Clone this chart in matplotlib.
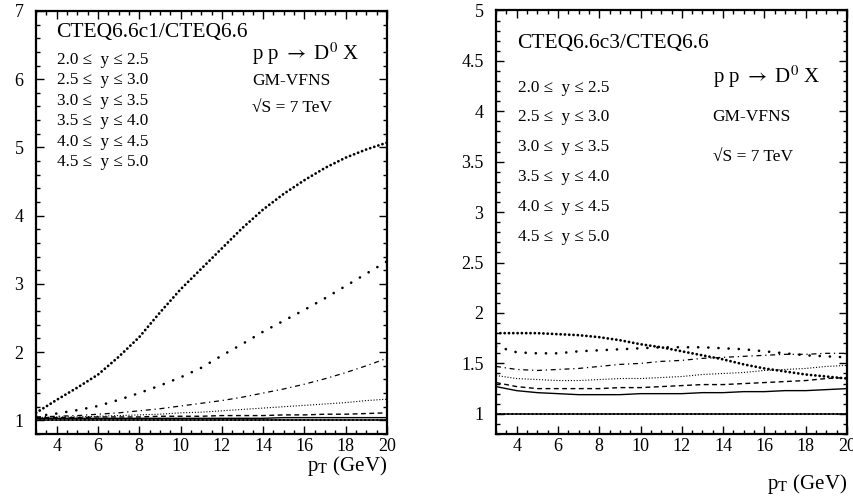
import matplotlib
matplotlib.use("Agg")
import matplotlib.pyplot as plt
from matplotlib.ticker import MultipleLocator, FuncFormatter

plt.rcParams['font.family'] = ['Liberation Serif', 'DejaVu Serif']
plt.rcParams['mathtext.fontset'] = 'stix'

pt = [3, 4, 5, 6, 7, 8, 9, 10, 11, 12, 13, 14, 15, 16, 17, 18, 19, 20]

rap_labels = ["2.0 \u2264  y \u2264 2.5", "2.5 \u2264  y \u2264 3.0", "3.0 \u2264  y \u2264 3.5",
              "3.5 \u2264  y \u2264 4.0", "4.0 \u2264  y \u2264 4.5", "4.5 \u2264  y \u2264 5.0"]

# CTEQ6.6c1 / CTEQ6.6
c1_y20 = [1.03, 1.03, 1.03, 1.03, 1.03, 1.03, 1.03, 1.03, 1.03, 1.03, 1.03, 1.03, 1.04, 1.04, 1.04, 1.04, 1.04, 1.04]
c1_y25 = [1.04, 1.04, 1.04, 1.05, 1.05, 1.05, 1.06, 1.06, 1.06, 1.07, 1.07, 1.07, 1.08, 1.08, 1.09, 1.09, 1.10, 1.11]
c1_y30 = [1.04, 1.05, 1.05, 1.06, 1.07, 1.08, 1.09, 1.11, 1.12, 1.14, 1.16, 1.18, 1.20, 1.22, 1.24, 1.26, 1.29, 1.31]
c1_y35 = [1.05, 1.06, 1.07, 1.09, 1.11, 1.14, 1.17, 1.21, 1.25, 1.29, 1.34, 1.40, 1.46, 1.53, 1.61, 1.70, 1.80, 1.91]
c1_y40 = [1.06, 1.10, 1.15, 1.21, 1.30, 1.40, 1.51, 1.63, 1.77, 1.95, 2.12, 2.30, 2.46, 2.62, 2.79, 2.97, 3.15, 3.33]
c1_y45 = [1.11, 1.30, 1.48, 1.67, 1.93, 2.22, 2.58, 2.92, 3.22, 3.52, 3.82, 4.09, 4.32, 4.52, 4.70, 4.85, 4.97, 5.07]

# CTEQ6.6c3 / CTEQ6.6
c3_y20 = [1.27, 1.23, 1.21, 1.20, 1.19, 1.19, 1.19, 1.20, 1.20, 1.20, 1.21, 1.21, 1.22, 1.22, 1.23, 1.23, 1.24, 1.25]
c3_y25 = [1.31, 1.27, 1.25, 1.25, 1.25, 1.25, 1.26, 1.26, 1.27, 1.28, 1.29, 1.29, 1.30, 1.31, 1.32, 1.33, 1.35, 1.36]
c3_y30 = [1.38, 1.35, 1.34, 1.33, 1.33, 1.34, 1.35, 1.35, 1.36, 1.37, 1.39, 1.40, 1.41, 1.43, 1.44, 1.45, 1.47, 1.48]
c3_y35 = [1.47, 1.44, 1.43, 1.44, 1.45, 1.47, 1.49, 1.50, 1.52, 1.53, 1.55, 1.56, 1.57, 1.58, 1.59, 1.59, 1.60, 1.60]
c3_y40 = [1.67, 1.61, 1.60, 1.60, 1.62, 1.63, 1.64, 1.65, 1.66, 1.66, 1.66, 1.65, 1.64, 1.62, 1.60, 1.58, 1.57, 1.56]
c3_y45 = [1.80, 1.80, 1.80, 1.79, 1.78, 1.76, 1.73, 1.69, 1.66, 1.62, 1.58, 1.54, 1.49, 1.45, 1.42, 1.39, 1.37, 1.35]

ref_value = 1.0

styles = [
    dict(lw=1.0, ls='-'),
    dict(lw=1.0, ls=(0, (3.5, 2.5))),
    dict(lw=0.8, ls=(0, (1, 1.6))),
    dict(lw=0.9, ls=(0, (4, 3, 1, 3))),
    dict(lw=1.9, ls=(0, (0.05, 3.8)), dash_capstyle='round'),
    dict(lw=2.0, ls=(0, (0.05, 1.5)), dash_capstyle='round'),
]

fig = plt.figure(figsize=(8.54, 4.96), dpi=100)
axL = fig.add_axes([0.0422, 0.125, 0.4110, 0.853])
axR = fig.add_axes([0.5808, 0.125, 0.4110, 0.854])

fmt = FuncFormatter(lambda v, p: "%g" % v)


def setup(ax, ylim, ymaj, ymin):
    ax.set_xlim(3, 20)
    ax.set_ylim(*ylim)
    ax.xaxis.set_major_locator(MultipleLocator(2))
    ax.xaxis.set_minor_locator(MultipleLocator(0.5))
    ax.yaxis.set_major_locator(MultipleLocator(ymaj))
    ax.yaxis.set_minor_locator(MultipleLocator(ymin))
    ax.yaxis.set_major_formatter(fmt)
    ax.xaxis.set_major_formatter(fmt)
    ax.tick_params(which='both', direction='in', top=True, right=True, width=1.0)
    ax.tick_params(which='major', length=6, labelsize=13)
    ax.tick_params(which='minor', length=3)
    ax.tick_params(axis='y', pad=9)
    ax.tick_params(axis='x', pad=3)
    for s in ax.spines.values():
        s.set_linewidth(1.6)


def draw(ax, series):
    ax.axhline(ref_value, color='black', lw=1.1)
    ax.axhline(ref_value, color='black', lw=1.5, ls=(0, (0.05, 1.9)), dash_capstyle='round')
    for yv, st in zip(series, styles):
        ax.plot(pt, yv, color='black', **st)


setup(axL, (0.8, 7), 1, 0.2)
draw(axL, [c1_y20, c1_y25, c1_y30, c1_y35, c1_y40, c1_y45])
setup(axR, (0.8, 5), 0.5, 0.1)
draw(axR, [c3_y20, c3_y25, c3_y30, c3_y35, c3_y40, c3_y45])

proc = r"p p $\rightarrow$ D$^{0}$ X"
xlab = r"p$_{\mathrm{T}}$ (GeV)"

# Left annotations
axL.text(0.058, 0.948, "CTEQ6.6c1/CTEQ6.6", transform=axL.transAxes, fontsize=15.5, va='center')
for i, lab in enumerate(rap_labels):
    axL.text(0.060, 0.884 - i * 0.0483, lab, transform=axL.transAxes, fontsize=12.3, va='center')
axL.text(0.615, 0.898, proc, transform=axL.transAxes, fontsize=15, va='center')
axL.text(0.615, 0.835, "GM-VFNS", transform=axL.transAxes, fontsize=12.5, va='center')
axL.text(0.615, 0.771, "\u221aS = 7 TeV", transform=axL.transAxes, fontsize=12.5, va='center')
axL.text(1.0, -0.076, xlab, transform=axL.transAxes, fontsize=15, ha='right', va='center')

# Right annotations
axR.text(0.06, 0.921, "CTEQ6.6c3/CTEQ6.6", transform=axR.transAxes, fontsize=15.5, va='center')
for i, lab in enumerate(rap_labels):
    axR.text(0.062, 0.818 - i * 0.0708, lab, transform=axR.transAxes, fontsize=12.3, va='center')
axR.text(0.617, 0.844, proc, transform=axR.transAxes, fontsize=15, va='center')
axR.text(0.617, 0.748, "GM-VFNS", transform=axR.transAxes, fontsize=12.5, va='center')
axR.text(0.617, 0.653, "\u221aS = 7 TeV", transform=axR.transAxes, fontsize=12.5, va='center')
axR.text(1.0, -0.118, xlab, transform=axR.transAxes, fontsize=15, ha='right', va='center')

fig.savefig("out.png", dpi=100)
